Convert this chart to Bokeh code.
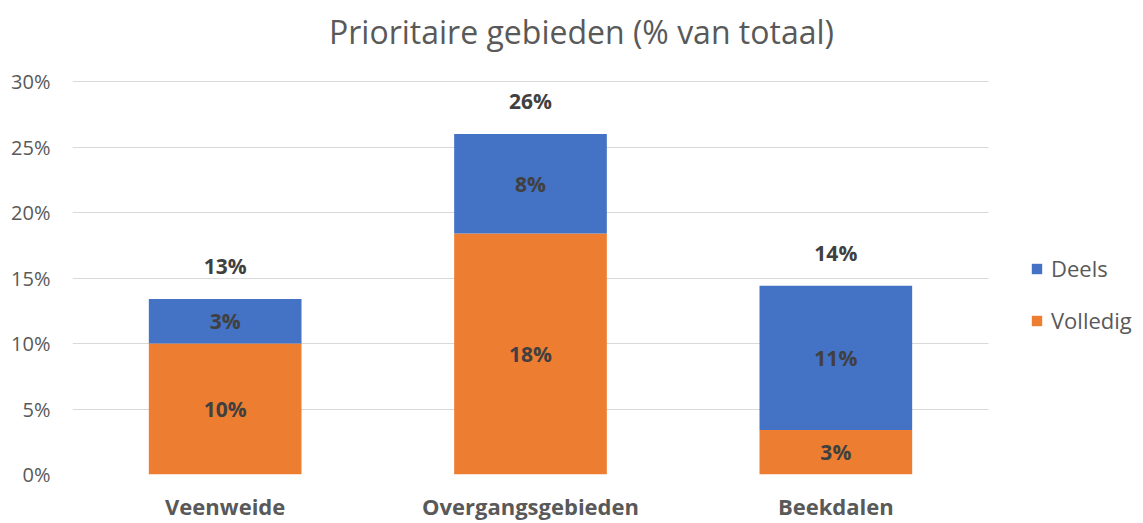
from bokeh.plotting import figure
from bokeh.models import (ColumnDataSource, NumeralTickFormatter, Range1d, Legend, LegendItem,
                          FixedTicker, Label)
from bokeh.core.properties import value
from bokeh.embed import file_html
from bokeh.resources import INLINE

categories = ["Veenweide", "Overgangsgebieden", "Beekdalen"]
volledig = [0.100, 0.184, 0.034]
deels = [0.034, 0.076, 0.110]
series_names = ["Volledig", "Deels"]
y_ticks = [0, 0.05, 0.10, 0.15, 0.20, 0.25, 0.30]
title_text = "Prioritaire gebieden (% van totaal)"

ORANGE = "#ED7D31"
BLUE = "#4472C4"
GREY = "#595959"
LABEL = "#404040"
FONT = "Open Sans"

# layout (pixels)
W, H = 1143, 523
LEFT, BOTTOM = 72, 49
PLOT_W, PLOT_H = 916, 393          # width of the category area, height of 0..30%
FRAME_W, FRAME_H = W - LEFT, H - BOTTOM

n = len(categories)
xs = [i + 0.5 for i in range(n)]
x_end = n * FRAME_W / PLOT_W
y_top = y_ticks[-1]
y_end = y_top * FRAME_H / PLOT_H


def pct(v):
    return "%d%%" % round(v * 100)


totals = [v + d for v, d in zip(volledig, deels)]
src = ColumnDataSource(dict(
    x=xs,
    volledig=volledig,
    deels=deels,
    v_mid=[v / 2 for v in volledig],
    d_mid=[v + d / 2 for v, d in zip(volledig, deels)],
    total=totals,
    v_lab=[pct(v) for v in volledig],
    d_lab=[pct(d) for d in deels],
    t_lab=[pct(t) for t in totals],
))

p = figure(x_range=Range1d(0, x_end), y_range=Range1d(0, y_end), width=W, height=H,
           output_backend="svg", toolbar_location=None,
           min_border_left=LEFT, min_border_right=0, min_border_top=0, min_border_bottom=BOTTOM)

r = p.vbar_stack(["volledig", "deels"], x="x", width=0.5, color=[ORANGE, BLUE],
                 source=src, line_color=None)

for y, lab in [("v_mid", "v_lab"), ("d_mid", "d_lab")]:
    p.text(x="x", y=y, text=lab, source=src, text_align="center", text_baseline="middle",
           text_font=value(FONT), text_font_size="21px", text_font_style="bold", text_color=LABEL)
p.text(x="x", y="total", text="t_lab", source=src, text_align="center", text_baseline="middle",
       y_offset=-33, text_font=value(FONT), text_font_size="21px", text_font_style="bold",
       text_color=LABEL)

# chart title, centred at x=581px, y=31px of the picture
p.add_layout(Label(x=(581 - LEFT) / PLOT_W * n, y=(FRAME_H - 31) / PLOT_H * y_top,
                   text=title_text, text_align="center", text_baseline="middle",
                   text_font=FONT, text_font_size="32px", text_color=GREY))

p.yaxis.ticker = FixedTicker(ticks=y_ticks)
p.yaxis.formatter = NumeralTickFormatter(format="0%")
p.yaxis.axis_line_color = None
p.yaxis.major_tick_line_color = None
p.yaxis.minor_tick_line_color = None
p.yaxis.major_label_text_font = FONT
p.yaxis.major_label_text_font_size = "20px"
p.yaxis.major_label_text_color = GREY
p.yaxis.major_label_standoff = 16

p.xaxis.ticker = FixedTicker(ticks=xs)
p.xaxis.major_label_overrides = {x: c for x, c in zip(xs, categories)}
p.xaxis.axis_line_color = None
p.xaxis.major_tick_line_color = None
p.xaxis.minor_tick_line_color = None
p.xaxis.major_label_text_font = FONT
p.xaxis.major_label_text_font_size = "22px"
p.xaxis.major_label_text_font_style = "bold"
p.xaxis.major_label_text_color = GREY
p.xaxis.major_label_standoff = 10

p.xgrid.grid_line_color = None
p.ygrid.grid_line_color = "#D9D9D9"
p.ygrid.grid_line_width = 1
p.ygrid.cross_bounds = (0, n)
p.outline_line_color = None

legend = Legend(items=[LegendItem(label="Deels", renderers=[r[1]]),
                       LegendItem(label="Volledig", renderers=[r[0]])],
                location=(958, 139), orientation="vertical",
                label_text_font=FONT, label_text_font_size="22px", label_text_color=GREY,
                glyph_width=13, glyph_height=13, spacing=22, padding=0, margin=0,
                border_line_color=None, background_fill_alpha=0, label_standoff=8)
p.add_layout(legend, "center")

open("out.html", "w").write(file_html(p, INLINE))
